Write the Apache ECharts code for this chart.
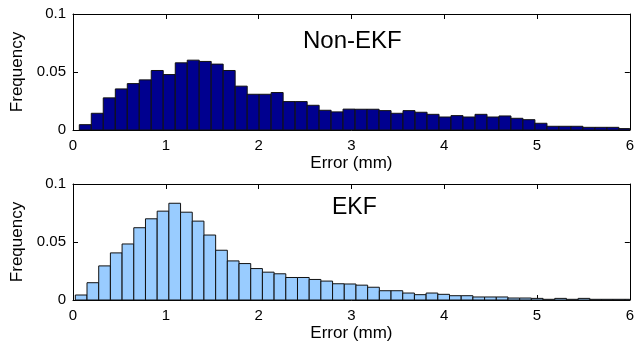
<!DOCTYPE html>
<html>
<head>
<meta charset="utf-8">
<script src="https://cdn.jsdelivr.net/npm/echarts/dist/echarts.min.js"></script>
<style>
  html, body { margin: 0; padding: 0; background: #fff; }
  #chart { width: 637px; height: 343px; }
</style>
</head>
<body>
<div id="chart"></div>
<script>
// bin left edges (mm) and bin widths
const nonEkfEdges = [0.068, 0.197, 0.326, 0.456, 0.585, 0.714, 0.843, 0.972, 1.102, 1.231,
  1.360, 1.489, 1.618, 1.748, 1.877, 2.006, 2.135, 2.264, 2.394, 2.523,
  2.652, 2.781, 2.910, 3.040, 3.169, 3.298, 3.427, 3.556, 3.686, 3.815,
  3.944, 4.073, 4.202, 4.332, 4.461, 4.590, 4.719, 4.848, 4.978, 5.107,
  5.236, 5.365, 5.494, 5.624, 5.753, 5.882];
const nonEkfWidth = 0.1292;
const nonEkfFreq = [0.0046, 0.0144, 0.0277, 0.0354, 0.0400, 0.0432, 0.0513, 0.0478, 0.0579, 0.0602,
  0.0591, 0.0568, 0.0513, 0.0378, 0.0308, 0.0308, 0.0323, 0.0245, 0.0245, 0.0213,
  0.0170, 0.0156, 0.0180, 0.0179, 0.0179, 0.0167, 0.0144, 0.0167, 0.0153, 0.0135,
  0.0112, 0.0124, 0.0112, 0.0135, 0.0112, 0.0121, 0.0101, 0.0089, 0.0058, 0.0032,
  0.0032, 0.0032, 0.0023, 0.0023, 0.0023, 0.0012];

const ekfEdges = [0.025, 0.151, 0.277, 0.403, 0.529, 0.655, 0.781, 0.907, 1.033, 1.159,
  1.285, 1.411, 1.537, 1.663, 1.789, 1.915, 2.041, 2.167, 2.293, 2.419,
  2.545, 2.671, 2.797, 2.923, 3.049, 3.175, 3.301, 3.427, 3.553, 3.679,
  3.805, 3.931, 4.057, 4.183, 4.309, 4.435, 4.561, 4.687, 4.813, 4.939,
  5.065, 5.191, 5.317, 5.443, 5.569, 5.695, 5.821, 5.947];
const ekfWidth = 0.126;
const ekfFreq = [0.0043, 0.0149, 0.0294, 0.0406, 0.0483, 0.0623, 0.0700, 0.0766, 0.0834, 0.0757,
  0.0680, 0.0560, 0.0429, 0.0337, 0.0314, 0.0271, 0.0240, 0.0226, 0.0194, 0.0194,
  0.0177, 0.0163, 0.0140, 0.0138, 0.0128, 0.0110, 0.0080, 0.0080, 0.0060, 0.0046,
  0.0060, 0.0049, 0.0037, 0.0037, 0.0026, 0.0026, 0.0026, 0.0017, 0.0017, 0.0014,
  0.0006, 0.0014, 0.0006, 0.0014, 0.0006, 0.0006, 0.0006, 0.0006];

const xTicks = [0, 1, 2, 3, 4, 5, 6];
const yTicks = [0, 0.05, 0.1];

const FONT = '"Liberation Sans", Arial, Helvetica, sans-serif';

function histItem(width, fill) {
  return function (params, api) {
    const x0 = api.value(0);
    const p0 = api.coord([x0, api.value(1)]);
    const p1 = api.coord([x0 + width, 0]);
    const cs = params.coordSys;
    const shape = echarts.graphic.clipRectByRect(
      { x: p0[0], y: p0[1], width: p1[0] - p0[0], height: p1[1] - p0[1] },
      { x: cs.x, y: cs.y, width: cs.width, height: cs.height }
    );
    return shape && {
      type: 'rect',
      shape: shape,
      style: { fill: fill, stroke: '#111', lineWidth: 1 }
    };
  };
}

function xAxes(grid, withLabels) {
  const base = {
    gridIndex: grid, type: 'value',
    min: xTicks[0], max: xTicks[xTicks.length - 1], interval: 1,
    axisLine: { show: true, onZero: false, lineStyle: { color: '#000', width: 1 } },
    axisTick: { show: true, inside: true, length: 5, lineStyle: { color: '#000' } },
    splitLine: { show: false }
  };
  return [
    Object.assign({}, base, {
      position: 'bottom',
      name: 'Error (mm)', nameLocation: 'middle', nameGap: 25,
      nameTextStyle: { fontFamily: FONT, fontSize: 17, color: '#000' },
      axisLabel: { show: withLabels, margin: 8, fontFamily: FONT, fontSize: 15, color: '#000' }
    }),
    Object.assign({}, base, { position: 'top', axisLabel: { show: false } })
  ];
}

function yAxes(grid) {
  const base = {
    gridIndex: grid, type: 'value',
    min: yTicks[0], max: yTicks[yTicks.length - 1], interval: 0.05,
    axisLine: { show: true, onZero: false, lineStyle: { color: '#000', width: 1 } },
    axisTick: { show: true, inside: true, length: 5, lineStyle: { color: '#000' } },
    splitLine: { show: false }
  };
  return [
    Object.assign({}, base, {
      position: 'left',
      name: 'Frequency', nameLocation: 'middle', nameGap: 47,
      nameTextStyle: { fontFamily: FONT, fontSize: 17, color: '#000' },
      axisLabel: { margin: 7, fontFamily: FONT, fontSize: 15, color: '#000' }
    }),
    Object.assign({}, base, { position: 'right', axisLabel: { show: false } })
  ];
}

const chart = echarts.init(document.getElementById('chart'));
chart.setOption({
  animation: false,
  backgroundColor: '#fff',
  grid: [
    { left: 73, top: 14, width: 557, height: 116 },
    { left: 73, top: 184, width: 557, height: 117 }
  ],
  xAxis: xAxes(0, true).concat(xAxes(1, true)),
  yAxis: yAxes(0).concat(yAxes(1)),
  graphic: [
    { type: 'text', x: 303, y: 41, style: { text: 'Non-EKF', font: '24px ' + FONT, fill: '#000', verticalAlign: 'middle' } },
    { type: 'text', x: 332, y: 207.5, style: { text: 'EKF', font: '23px ' + FONT, fill: '#000', verticalAlign: 'middle' } }
  ],
  series: [
    {
      type: 'custom', name: 'Non-EKF', xAxisIndex: 0, yAxisIndex: 0,
      renderItem: histItem(nonEkfWidth, '#00008f'),
      encode: { x: 0, y: 1 },
      data: nonEkfEdges.map((e, i) => [e, nonEkfFreq[i]])
    },
    {
      type: 'custom', name: 'EKF', xAxisIndex: 2, yAxisIndex: 2,
      renderItem: histItem(ekfWidth, '#99ccff'),
      encode: { x: 0, y: 1 },
      data: ekfEdges.map((e, i) => [e, ekfFreq[i]])
    }
  ]
});
</script>
</body>
</html>
